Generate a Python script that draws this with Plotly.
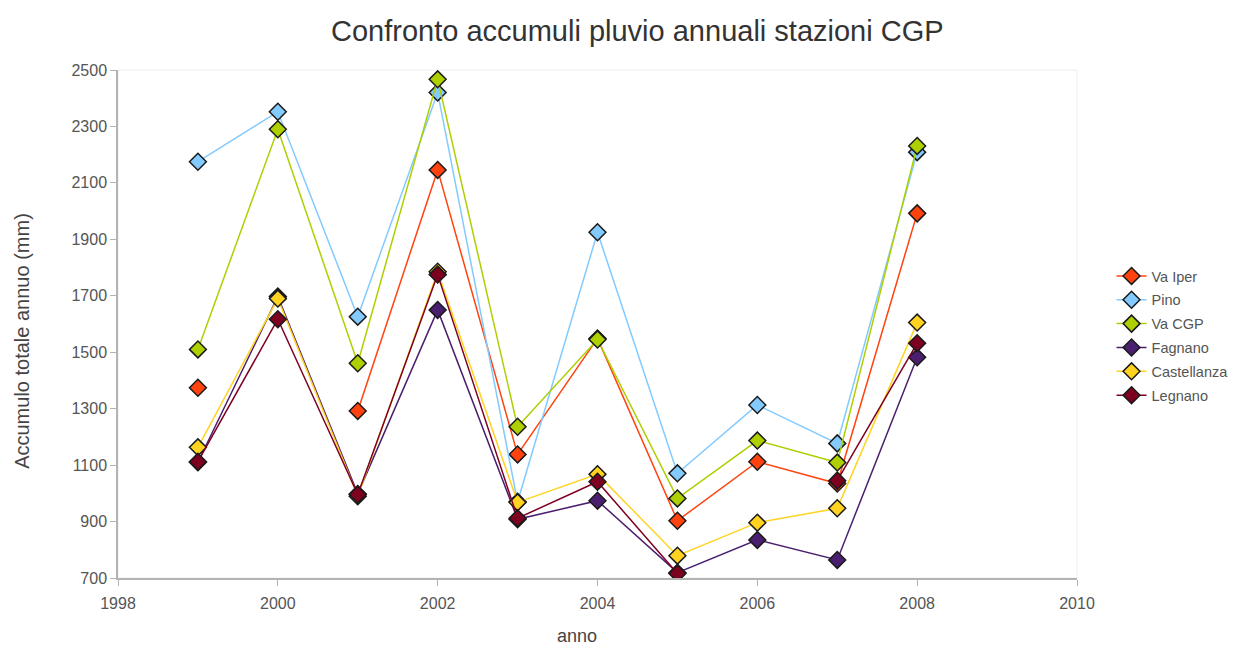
import plotly.graph_objects as go

years = [1999, 2000, 2001, 2002, 2003, 2004, 2005, 2006, 2007, 2008]

va_iper = [1374, None, 1292, 2146, 1138, 1549, 903, 1112, 1035, 1992]
pino = [2175, 2352, 1626, 2420, 970, 1925, 1071, 1313, 1177, 2209]
va_cgp = [1510, 2290, 1461, 2467, 1236, 1545, 982, 1187, 1109, 2231]
fagnano = [1110, 1697, 998, 1650, 908, 974, 719, 835, 764, 1482]
castellanza = [1163, 1690, 990, 1785, 968, 1068, 779, 896, 947, 1605]
legnano = [1112, 1617, 996, 1775, 912, 1041, 716, None, 1045, 1532]

series = [
    ("Va Iper", va_iper, "#ff420e"),
    ("Pino", pino, "#83caff"),
    ("Va CGP", va_cgp, "#aecf00"),
    ("Fagnano", fagnano, "#4b1f6f"),
    ("Castellanza", castellanza, "#ffd320"),
    ("Legnano", legnano, "#7e0021"),
]

FONT = "Liberation Sans, Arial, sans-serif"

fig = go.Figure()

# light frame around the plot area
fig.add_shape(
    type="rect", xref="paper", yref="paper", x0=0, y0=0, x1=1, y1=1,
    line=dict(color="#eeeeee", width=1), layer="below",
)

for name, vals, color in series:
    fig.add_trace(
        go.Scatter(
            x=years,
            y=vals,
            name=name,
            legendgroup=name,
            mode="lines+markers",
            connectgaps=False,
            line=dict(color=color, width=1.5),
            marker=dict(
                symbol="diamond",
                size=13,
                color=color,
                line=dict(color="#1a1a1a", width=1.5),
            ),
        )
    )

# axis titles as annotations so they don't push the margins
fig.add_annotation(
    text="anno", xref="paper", yref="paper", x=0.479, y=-0.114,
    xanchor="center", yanchor="middle", showarrow=False,
    font=dict(family=FONT, size=18, color="#444444"),
)
fig.add_annotation(
    text="Accumulo totale annuo (mm)", xref="paper", yref="paper",
    x=-0.1, y=0.467, textangle=-90, xanchor="center", yanchor="middle",
    showarrow=False, font=dict(family=FONT, size=20, color="#444444"),
)

tick_font = dict(family=FONT, size=16, color="#555555")

fig.update_layout(
    width=1257,
    height=648,
    plot_bgcolor="white",
    paper_bgcolor="white",
    font=dict(family=FONT, color="#444444"),
    margin=dict(l=118, r=180, t=70, b=70),
    title=dict(
        text="Confronto accumuli pluvio annuali stazioni CGP",
        x=0.507,
        xref="container",
        xanchor="center",
        y=0.953,
        yanchor="middle",
        font=dict(size=29, color="#333333"),
    ),
    legend=dict(
        x=1.036,
        y=0.626,
        xanchor="left",
        yanchor="top",
        font=dict(size=14.5, color="#555555"),
        tracegroupgap=2,
        bgcolor="rgba(0,0,0,0)",
    ),
    xaxis=dict(
        range=[1998, 2010],
        dtick=2,
        tick0=1998,
        showgrid=False,
        zeroline=False,
        showline=True,
        linecolor="#b3b3b3",
        linewidth=1.5,
        ticks="outside",
        ticklen=6,
        tickcolor="#b3b3b3",
        tickfont=tick_font,
        ticklabelstandoff=4,
        automargin=False,
    ),
    yaxis=dict(
        range=[700, 2500],
        dtick=200,
        tick0=700,
        showgrid=False,
        zeroline=False,
        showline=True,
        linecolor="#b3b3b3",
        linewidth=1.5,
        ticks="outside",
        ticklen=6,
        tickcolor="#b3b3b3",
        tickfont=tick_font,
        automargin=False,
    ),
)

# drop the default 8px body margin so the figure fills the window exactly
fig.write_html(
    "out.html",
    config={"displayModeBar": False},
    post_script="document.body.style.margin = '0';",
)
